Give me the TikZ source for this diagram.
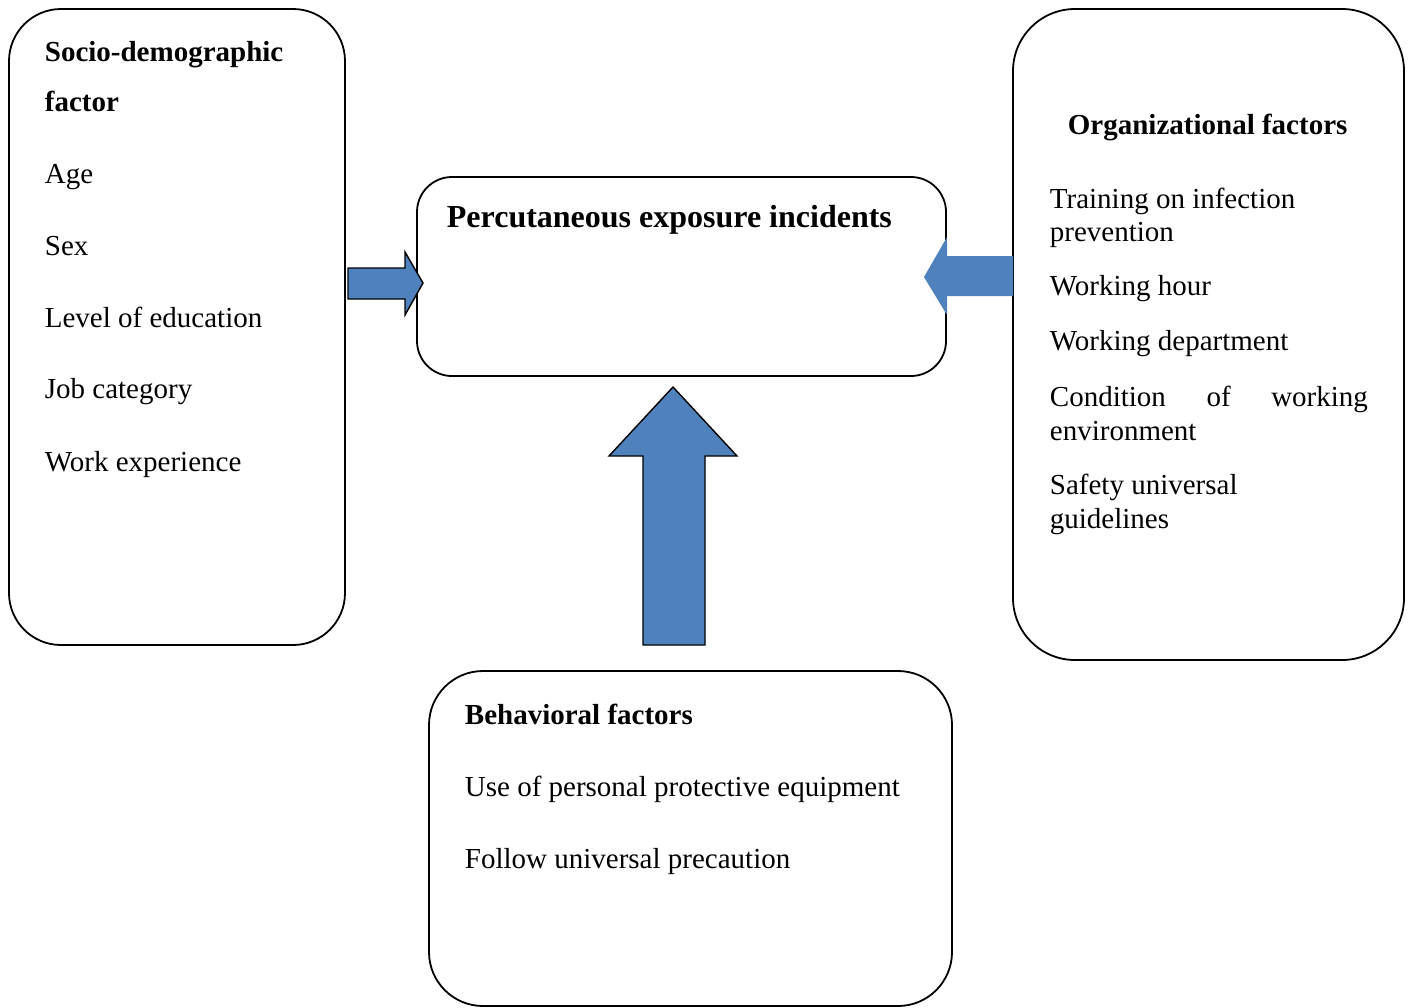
\documentclass[tikz,border=0pt]{standalone}
\usepackage{fontspec}
\setmainfont{Liberation Serif}
\definecolor{arrowblue}{HTML}{4F81BD}

\begin{document}
\begin{tikzpicture}[x=0.5pt, y=-0.5pt, line width=0.9pt,
    box/.style={draw=black, rounded corners=#1},
    txt/.style={anchor=base west, inner sep=0pt, font=\fontsize{14.5}{17}\selectfont},
    head/.style={txt, font=\fontsize{14.5}{17}\selectfont\bfseries},
    blockarrow/.style={fill=arrowblue, draw=black, line width=0.7pt, line join=miter}
    ]
    \useasboundingbox (0,0) rectangle (1412,1007);

    %% boxes
    \draw[box=26pt] (9,9) rectangle (345,645);          % socio-demographic
    \draw[box=17.5pt] (417,177) rectangle (946,376);    % outcome
    \draw[box=31pt] (1013,9) rectangle (1404,660);      % organizational
    \draw[box=27pt] (429,671) rectangle (952,1006);     % behavioral

    %% block arrows
    \draw[blockarrow] (348,268) -- (405,268) -- (405,252) -- (423,283)
        -- (405,315) -- (405,299) -- (348,299) -- cycle;
    \fill[arrowblue] (1013,256) -- (947,256) -- (947,237) -- (924,277)
        -- (947,315) -- (947,296) -- (1013,296) -- cycle;
    \draw[blockarrow] (643,645) -- (643,456) -- (609,456) -- (673,387)
        -- (737,456) -- (705,456) -- (705,645) -- cycle;

    %% socio-demographic factor
    \node[head] (socio) at (44,61) {Socio-demographic};
    \node[head] (socio2) at (44,111) {factor};
    \node[txt] (age) at (44,183) {Age};
    \node[txt] (sex) at (44,255) {Sex};
    \node[txt] (edu) at (44,327) {Level of education};
    \node[txt] (job) at (44,398) {Job category};
    \node[txt] (exper) at (44,471) {Work experience};

    %% outcome
    \node[head, font=\fontsize{16}{19}\selectfont\bfseries] (pei) at (446,227) {Percutaneous exposure incidents};

    %% organizational factors
    \node[head] (org) at (1067,134) {Organizational factors};
    \node[txt] (train) at (1049,208) {Training on infection};
    \node[txt] (train2) at (1049,241) {prevention};
    \node[txt] (hour) at (1049,295) {Working hour};
    \node[txt] (dept) at (1049,350) {Working department};
    \node[txt] (cond) at (1049,406) {\makebox[159pt][s]{Condition of working}};
    \node[txt] (cond2) at (1049,440) {environment};
    \node[txt] (safe) at (1049,494) {Safety universal};
    \node[txt] (safe2) at (1049,528) {guidelines};

    %% behavioral factors
    \node[head] (behav) at (464,724) {Behavioral factors};
    \node[txt] (ppe) at (464,796) {Use of personal protective equipment};
    \node[txt] (prec) at (464,868) {Follow universal precaution};
\end{tikzpicture}
\end{document}
